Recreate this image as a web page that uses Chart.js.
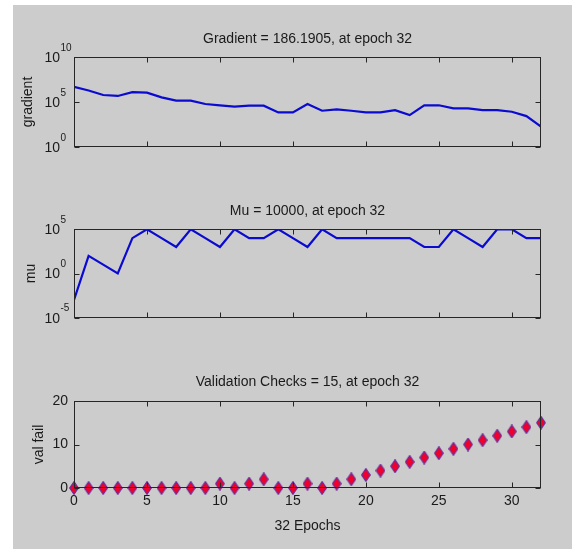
<!DOCTYPE html>
<html>
<head>
<meta charset="utf-8">
<script src="https://cdn.jsdelivr.net/npm/chart.js@4.4.0/dist/chart.umd.min.js"></script>
<style>
  body { margin: 0; background: #ffffff; }
  #frame { position: absolute; left: 13px; top: 5px; width: 559px; height: 544px; background: #cccccc; }
  canvas { position: absolute; left: 0; }
</style>
</head>
<body>
<div id="frame"></div>
<canvas id="gradChart" width="572" height="170" style="top:0px"></canvas>
<canvas id="muChart" width="572" height="165" style="top:175px"></canvas>
<canvas id="valChart" width="572" height="204" style="top:345px"></canvas>
<script>
// Training record
const epochs = [0, 1, 2, 3, 4, 5, 6, 7, 8, 9, 10, 11, 12, 13, 14, 15, 16,
                17, 18, 19, 20, 21, 22, 23, 24, 25, 26, 27, 28, 29, 30, 31, 32];
const gradientValues = [4.8e6, 1.9e6, 6.0e5, 4.7e5, 1.26e6, 1.1e6, 3.3e5, 1.4e5, 1.4e5, 6.0e4, 4.3e4,
                        3.0e4, 3.9e4, 3.9e4, 6.9e3, 6.9e3, 6.0e4, 1.07e4, 1.5e4, 1.07e4, 6.9e3, 6.9e3,
                        1.26e4, 3.5e3, 4.3e4, 4.3e4, 1.95e4, 1.95e4, 1.26e4, 1.26e4, 8.3e3, 2.7e3, 186.19];
const muValues = [1e-3, 1e2, 1e1, 1e0, 1e4, 1e5, 1e4, 1e3, 1e5, 1e4, 1e3, 1e5, 1e4, 1e4, 1e5, 1e4, 1e3,
                  1e5, 1e4, 1e4, 1e4, 1e4, 1e4, 1e4, 1e3, 1e3, 1e5, 1e4, 1e3, 1e5, 1e5, 1e4, 1e4];
const valFailValues = [0, 0, 0, 0, 0, 0, 0, 0, 0, 0, 1, 0, 1, 2, 0, 0, 1,
                       0, 1, 2, 3, 4, 5, 6, 7, 8, 9, 10, 11, 12, 13, 14, 15];

const epochTicks = [0, 5, 10, 15, 20, 25, 30];
const gradientTicks = [1, 1e5, 1e10];
const muTicks = [1e-5, 1, 1e5];
const valFailTicks = [0, 10, 20];

const titles = ['Gradient = 186.1905, at epoch 32', 'Mu = 10000, at epoch 32', 'Validation Checks = 15, at epoch 32'];

Chart.defaults.font.family = "'Liberation Sans', Arial, sans-serif";
Chart.defaults.color = '#1a1a1a';

// matlab style box, inward ticks and 10^n labels
const matlabAxes = {
  id: 'matlabAxes',
  afterDatasetsDraw(chart) {
    const { ctx, chartArea: a, scales: { x, y } } = chart;
    const L = Math.round(a.left) + 0.5, R = Math.round(a.right) - 0.5;
    const T = Math.round(a.top) + 0.5, B = Math.round(a.bottom) - 0.5;
    ctx.save();
    ctx.strokeStyle = '#262626';
    ctx.lineWidth = 1;
    ctx.strokeRect(L, T, R - L, B - T);
    ctx.beginPath();
    x.ticks.forEach(t => {
      const px = Math.round(x.getPixelForValue(t.value)) + 0.5;
      ctx.moveTo(px, B); ctx.lineTo(px, B - 5);
      ctx.moveTo(px, T); ctx.lineTo(px, T + 5);
    });
    y.ticks.forEach(t => {
      const py = Math.round(y.getPixelForValue(t.value)) + 0.5;
      ctx.moveTo(L, py); ctx.lineTo(L + 5, py);
      ctx.moveTo(R, py); ctx.lineTo(R - 5, py);
    });
    ctx.stroke();
    if (y.type === 'logarithmic') {
      ctx.fillStyle = '#1a1a1a';
      ctx.textBaseline = 'middle';
      y.ticks.forEach(t => {
        const py = y.getPixelForValue(t.value);
        ctx.font = "14px 'Liberation Sans', Arial, sans-serif";
        ctx.textAlign = 'right';
        ctx.fillText('10', a.left - 14, py + 1);
        ctx.font = "10px 'Liberation Sans', Arial, sans-serif";
        ctx.textAlign = 'left';
        ctx.fillText(String(Math.round(Math.log10(t.value))), a.left - 13.5, py - 9);
      });
    }
    ctx.restore();
  }
};

const diamond = document.createElement('canvas');
diamond.width = 10;
diamond.height = 14;
(function () {
  const c = diamond.getContext('2d');
  c.beginPath();
  c.moveTo(5, 0.7); c.lineTo(9.3, 7); c.lineTo(5, 13.3); c.lineTo(0.7, 7);
  c.closePath();
  c.fillStyle = '#f0002a';
  c.fill();
  c.strokeStyle = '#6a2a9c';
  c.lineWidth = 1.2;
  c.stroke();
})();

function makeChart(id, cfg) {
  const xScale = {
    type: 'linear', min: 0, max: 32,
    grid: { display: false, drawTicks: false }, border: { display: false },
    afterBuildTicks: s => { s.ticks = epochTicks.map(v => ({ value: v })); },
    afterFit: s => { s.height = cfg.xHeight; },
    ticks: { display: cfg.xLabels, padding: 5, font: { size: 14 } },
    title: { display: !!cfg.xTitle, text: cfg.xTitle, font: { size: 14 }, padding: { top: 0, bottom: 14.6 } }
  };
  const yScale = {
    type: cfg.yType, min: cfg.yMin, max: cfg.yMax,
    grid: { display: false, drawTicks: false }, border: { display: false },
    afterBuildTicks: s => { s.ticks = cfg.yTicks.map(v => ({ value: v })); },
    afterFit: s => { s.width = 74; },
    ticks: { display: cfg.yType === 'linear', padding: 6, font: { size: 14 } },
    title: { display: true, text: cfg.yTitle, font: { size: 14 }, padding: { top: cfg.yTitlePad, bottom: 0 } }
  };
  return new Chart(document.getElementById(id), {
    type: cfg.type,
    data: { datasets: [cfg.dataset] },
    options: {
      responsive: false, animation: false, devicePixelRatio: 1,
      layout: { padding: { left: 0, right: 31, top: 0, bottom: 0 } },
      scales: { x: xScale, y: yScale },
      plugins: {
        legend: { display: false },
        tooltip: { enabled: false },
        title: {
          display: true, text: cfg.title, fullSize: false,
          font: { size: 14, weight: 'normal' },
          padding: { top: cfg.titlePad[0], bottom: cfg.titlePad[1] }
        }
      }
    },
    plugins: [matlabAxes]
  });
}

makeChart('gradChart', {
  type: 'line', title: titles[0], titlePad: [30.6, 9.6],
  yType: 'logarithmic', yMin: 1, yMax: 1e10, yTicks: gradientTicks, yTitle: 'gradient', yTitlePad: 19.6,
  xHeight: 23, xLabels: false,
  dataset: {
    data: epochs.map((e, i) => ({ x: e, y: gradientValues[i] })),
    borderColor: '#0a0ad0', borderWidth: 2.2, pointRadius: 0, tension: 0
  }
});

makeChart('muChart', {
  type: 'line', title: titles[1], titlePad: [27.6, 9.9],
  yType: 'logarithmic', yMin: 1e-5, yMax: 1e5, yTicks: muTicks, yTitle: 'mu', yTitlePad: 22.6,
  xHeight: 22.3, xLabels: false,
  dataset: {
    data: epochs.map((e, i) => ({ x: e, y: muValues[i] })),
    borderColor: '#0a0ad0', borderWidth: 2.2, pointRadius: 0, tension: 0
  }
});

makeChart('valChart', {
  type: 'scatter', title: titles[2], titlePad: [28.6, 10.6],
  yType: 'linear', yMin: 0, yMax: 20, yTicks: valFailTicks, yTitle: 'val fail', yTitlePad: 30.6,
  xHeight: 61, xLabels: true, xTitle: '32 Epochs',
  dataset: {
    data: epochs.map((e, i) => ({ x: e, y: valFailValues[i] })),
    pointStyle: diamond, showLine: false, clip: false
  }
});
</script>
</body>
</html>
